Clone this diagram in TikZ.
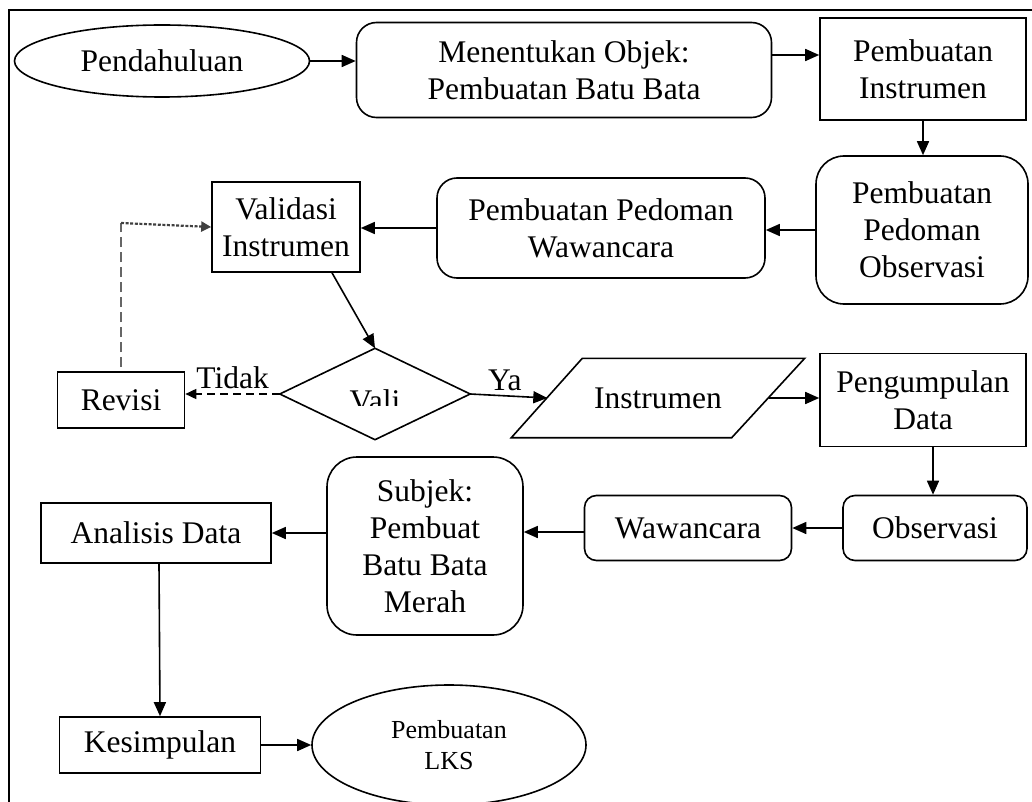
\documentclass[tikz,border=0pt]{standalone}
\usepackage{fontspec}
\setmainfont{Liberation Serif}
\usetikzlibrary{arrows.meta,shapes.geometric}
\begin{document}
\begin{tikzpicture}[x=1pt,y=-1pt,
  every node/.style={inner sep=0pt, font=\fontsize{31.5}{37}\selectfont, align=center},
  box/.style={draw, line width=1.6pt},
  rbox/.style={draw, line width=1.6pt, rounded corners=#1},
  rbox/.default=20pt,
  oval/.style={draw, ellipse, line width=1.6pt},
  arr/.style={line width=1.6pt, -{Triangle[length=14pt,width=12pt]}},
  darr/.style={line width=1.6pt, dash pattern=on 8pt off 5pt, -{Triangle[length=11pt,width=10pt]}},
  gdash/.style={line width=1.8pt, draw=black!60, dash pattern=on 10pt off 5pt},
  gdot/.style={line width=2.2pt, draw=black!75, dash pattern=on 3pt off 1.6pt, -{Triangle[length=10pt,width=10pt]}},
  lbl/.style={font=\fontsize{31.5}{37}\selectfont}
]
\useasboundingbox (0,0) rectangle (1032,802);
\draw[line width=1.6pt] (9,802) -- (9,10) -- (1032,10);

\node[oval, minimum width=295pt, minimum height=72pt] (pend) at (162,61) {Pendahuluan};
\node[rbox, minimum width=415pt, minimum height=95pt] (obj) at (564,70) {Menentukan Objek:\\Pembuatan Batu Bata};
\node[box, minimum width=206pt, minimum height=102pt] (instr) at (923,69) {Pembuatan\\Instrumen};
\node[rbox=28pt, minimum width=212pt, minimum height=148pt] (pedObs) at (922,230) {Pembuatan\\Pedoman\\Observasi};
\node[rbox, minimum width=328pt, minimum height=100pt] (pedWaw) at (601,228) {Pembuatan Pedoman\\Wawancara};
\node[box, minimum width=148pt, minimum height=90pt] (valid) at (286,227) {Validasi\\Instrumen};
\node[minimum width=190pt, minimum height=91pt] (dia) at (375,394) {};
\draw[line width=1.6pt] (dia.north) -- (dia.east) -- (dia.south) -- (dia.west) -- cycle;
\begin{scope}
  \clip (300,380) rectangle (450,405);
  \node[anchor=base] (vali) at (375,411) {Vali};
\end{scope}
\node[box, minimum width=127pt, minimum height=56pt] (rev) at (121,400) {Revisi};
\node[minimum width=293pt, minimum height=79pt] (para) at (658,398) {\raisebox{-4pt}{Instrumen}};
\draw[line width=1.6pt] (para.south west) -- ([xshift=71pt]para.north west) -- (para.north east) -- ([xshift=-73pt]para.south east) -- cycle;
\node[box, minimum width=206pt, minimum height=93pt] (pd) at (923,400) {Pengumpulan\\Data};
\node[rbox=12pt, minimum width=184pt, minimum height=65pt] (obs) at (935,528) {Observasi};
\node[rbox=12pt, minimum width=207pt, minimum height=65pt] (waw) at (688,528) {Wawancara};
\node[rbox=30pt, minimum width=196pt, minimum height=178pt] (subj) at (425,546) {Subjek:\\Pembuat\\Batu Bata\\Merah};
\node[box, minimum width=230pt, minimum height=60pt] (ana) at (156,533) {Analisis Data};
\node[box, minimum width=201pt, minimum height=56pt] (kes) at (160,745) {Kesimpulan};
\node[oval, minimum width=274pt, minimum height=120pt, font=\fontsize{26}{31}\selectfont] (lks) at (449,745) {Pembuatan\\LKS};

% connectors
\draw[arr] (pend.east) -- (pend.east -| obj.west);
\draw[arr] ([yshift=15pt]obj.east) -- ([yshift=15pt]obj.east -| instr.west);
\draw[arr] (instr.south) -- (instr.south |- pedObs.north);
\draw[arr] (pedObs.west) -- (pedObs.west -| pedWaw.east);
\draw[arr] (pedWaw.west) -- (pedWaw.west -| valid.east);
\draw[arr] ([xshift=46pt]valid.south) -- (dia.north);
\draw[darr] (dia.west) -- (dia.west -| rev.east) node[lbl, pos=0.5, above=4pt] (tidak) {Tidak};
\coordinate (corner) at ([yshift=4pt]rev.north |- valid.west);
\draw[gdash] ([yshift=4pt]rev.north) -- (corner);
\draw[gdot] (corner) -- (valid.west);
\draw[arr] (dia.east) -- ([xshift=36pt]para.west) node[lbl, pos=0.45, above=4pt] (ya) {Ya};
\draw[arr] ([xshift=-36pt]para.east) -- (para.east -| pd.west);
\draw[arr] ([xshift=10pt]pd.south) -- ([xshift=10pt]pd.south |- obs.north);
\draw[arr] (obs.west) -- (obs.west -| waw.east);
\draw[arr] ([yshift=-4pt]waw.west) -- ([yshift=-4pt]waw.west -| subj.east);
\draw[arr] (subj.west |- ana.east) -- (ana.east);
\draw[arr] ([xshift=3pt]ana.south) -- (kes.north);
\draw[arr] (kes.east) -- (lks.west);
\end{tikzpicture}
\end{document}
